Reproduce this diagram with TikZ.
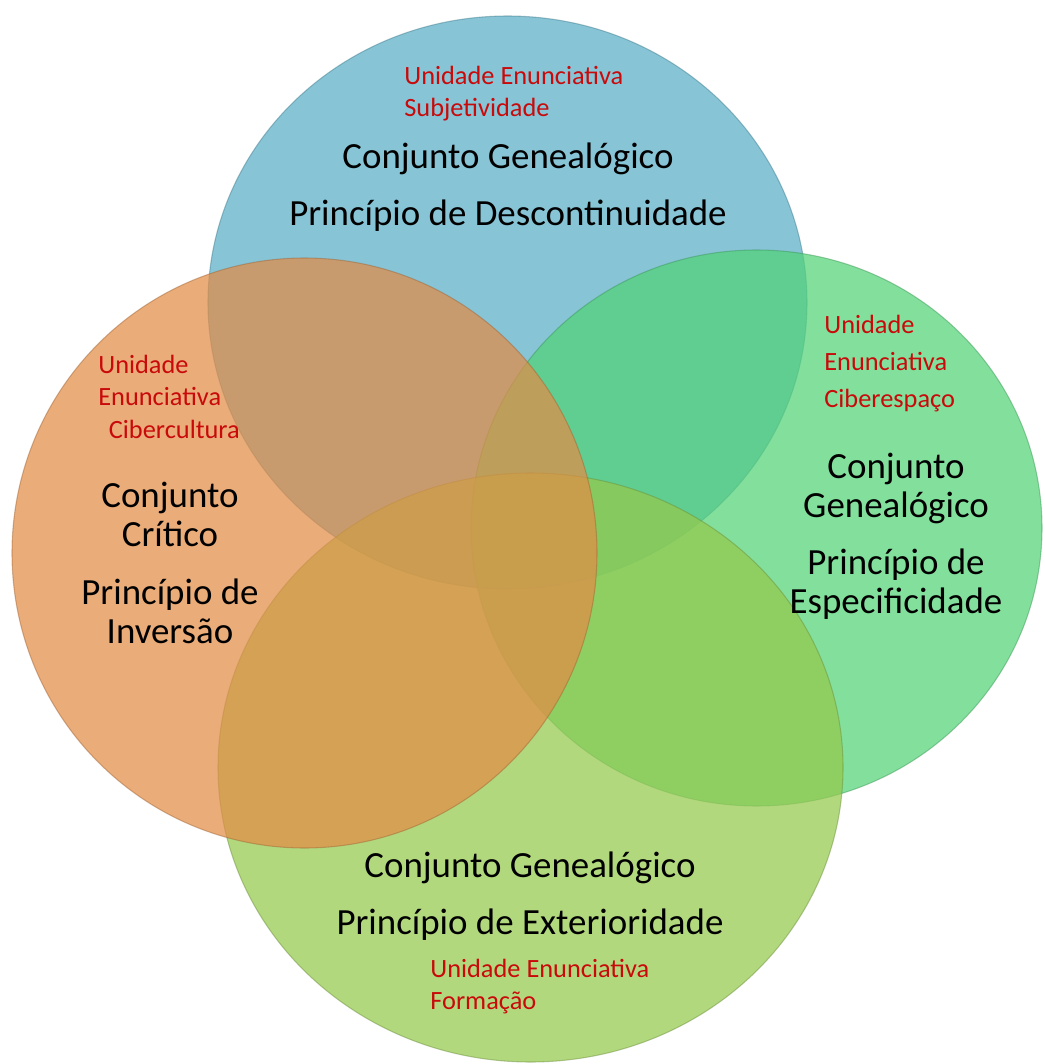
\documentclass[tikz,border=0pt]{standalone}
\usepackage{fontspec}
\setmainfont{Carlito}
\definecolor{setblue}{RGB}{88,174,199}
\definecolor{setorange}{RGB}{226,140,70}
\definecolor{setgreen}{RGB}{82,211,119}
\definecolor{setlime}{RGB}{149,201,77}
\definecolor{unitred}{RGB}{200,10,10}
\tikzset{
  setdisk/.style={fill=#1,fill opacity=0.72,draw=#1!70!black,draw opacity=0.45,line width=0.6pt},
  unitlbl/.style={text=unitred,align=left,inner sep=0pt,anchor=north west,
    font=\fontsize{15}{18.4}\selectfont},
  setlbl/.style={text=black,align=center,inner sep=0pt,
    font=\fontsize{21}{22.1}\selectfont}
}
\begin{document}
\begin{tikzpicture}[x=0.02cm,y=-0.02cm]
    \useasboundingbox (0,0) rectangle (1044,1064);
    \fill [white] (0,0) rectangle (1044,1064);
    \path [setdisk=setblue] (507.5,302.5) ellipse [x radius=299.5,y radius=286.5];
    \path [setdisk=setgreen] (756.5,528) ellipse [x radius=285.5,y radius=278];
    \path [setdisk=setlime] (530.5,767.5) ellipse [x radius=312.5,y radius=294.5];
    \path [setdisk=setorange] (304.5,553) ellipse [x radius=292.5,y radius=295];
    % top set
    \node [unitlbl] (blueunit) at (404,66) {Unidade Enunciativa\\Subjetividade};
    \node [setlbl] (bluetext) at (508,187) {Conjunto Genealógico\\[10pt]Princípio de Descontinuidade};
    % left set
    \node [unitlbl] (orangeunit) at (98,355) {Unidade\\Enunciativa\\\hspace*{6pt}Cibercultura};
    \node [setlbl] (orangetext) at (170,563) {Conjunto\\Crítico\\[11.3pt]Princípio de\\Inversão};
    % right set
    \node [unitlbl,font=\fontsize{15}{21}\selectfont] (greenunit) at (824,315) {Unidade\\Enunciativa\\Ciberespaço};
    \node [setlbl] (greentext) at (896,536) {Conjunto\\Genealógico\\[10.5pt]Princípio de\\Especificidade};
    % bottom set
    \node [setlbl] (limetext) at (530,896) {Conjunto Genealógico\\[10pt]Princípio de Exterioridade};
    \node [unitlbl] (limeunit) at (430,959) {Unidade Enunciativa\\Formação};
\end{tikzpicture}
\end{document}
